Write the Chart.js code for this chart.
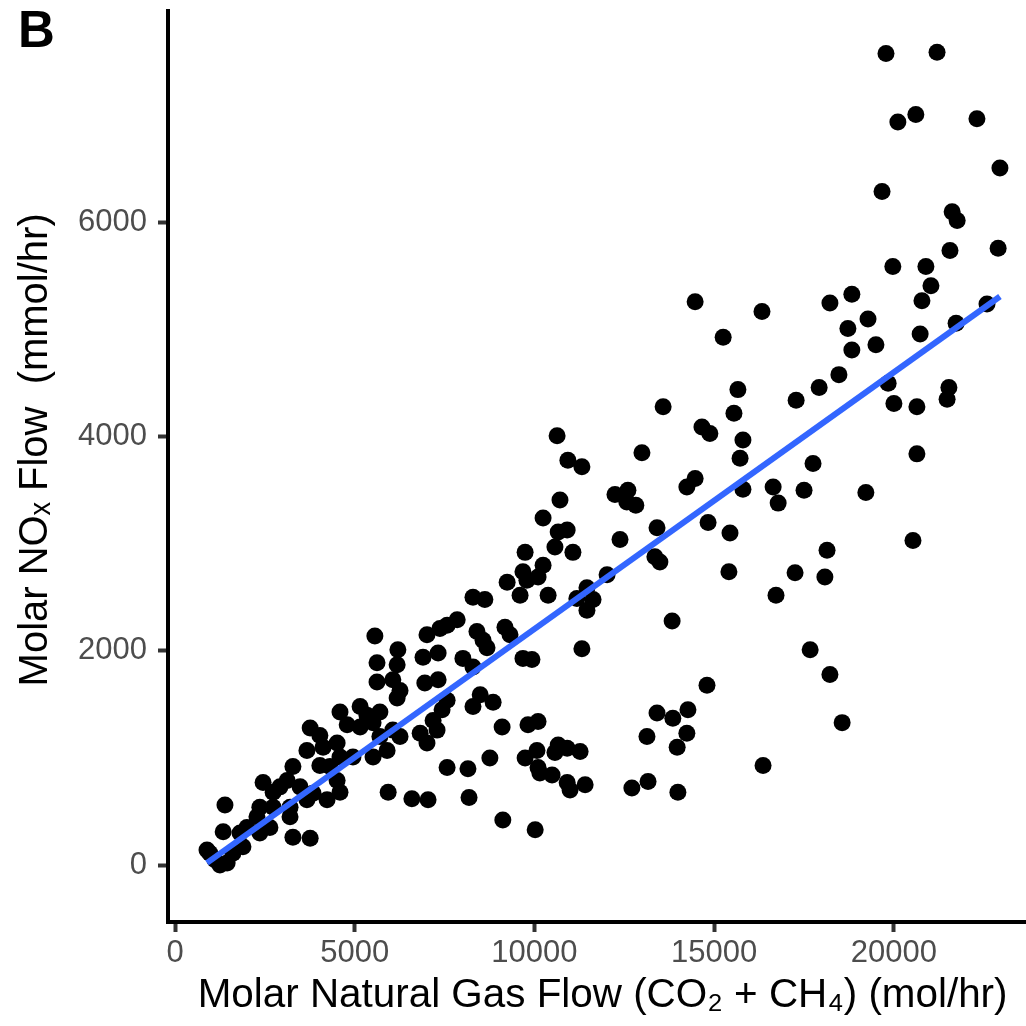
<!DOCTYPE html>
<html>
<head>
<meta charset="utf-8">
<script src="https://cdn.jsdelivr.net/npm/chart.js@4/dist/chart.umd.min.js"></script>
<style>
html,body{margin:0;padding:0;background:#ffffff;}
#wrap{width:1026px;height:1026px;}
</style>
</head>
<body>
<div id="wrap"><canvas id="c" width="1026" height="1026"></canvas></div>
<script>
// Molar natural gas flow (CO2 + CH4), mol/hr
const natGasFlow = [
  5560,6200,5620,6180,6900,7320,7010,7370,7570,5620,6060,6260,6180,6950,7320,7570,
  4590,5150,5340,4790,5700,3760,4030,3670,4120,4510,5150,5510,6060,6260,5700,5900,
  5510,4950,4590,4310,4030,4510,4590,4230,3840,3670,3480,3280,3120,2920,2450,2730,
  3200,3200,2730,2360,2280,2640,2360,2000,1810,1890,1610,1450,1250,1340,1390,970,
  890,1110,3280,3760,5930,6590,7040,6820,7010,7290,7570,7180,7430,
  10630,10930,11320,10710,12240,12380,10240,10660,10910,10570,11070,9740,10240,10100,
  9680,9790,9240,9600,10380,8290,8620,12020,11460,11180,11630,11460,11320,9180,9320,
  9680,9930,8400,8570,8680,7850,8010,8290,
  13830,8490,8290,8850,9100,9820,10100,8760,8150,9740,10070,10100,10150,10490,10660,
  10570,10910,11270,10910,10990,11410,8180,9120,10020,12710,13160,13990,13130,13410,
  13850,14270,14240,13970,14800,16360,
  14470,16330,18220,18830,18720,18830,18470,17920,17280,15250,15660,15550,13580,14660,
  14880,15800,15720,17750,12990,14470,14240,12600,12570,12820,16640,16780,17500,15800,
  19220,13410,13350,13490,14830,15440,18140,15410,17250,18080,
  19780,21200,20110,20610,22310,22950,19670,21620,21760,21560,22900,19970,20890,21030,
  20780,19280,22590,21730,19500,20730,19840,20000,20640,21530,21480,20640,20530,17670,
  18220,18560,16720
];
// Molar NOx flow, mmol/hr
const noxFlow = [
  2140,2010,1890,1870,1940,1980,2150,2210,2240,1710,1730,1630,1560,1700,1730,1540,
  1430,1480,1400,1310,1430,1280,1210,1070,1100,1140,1290,1330,1260,1200,1200,1070,
  1010,1010,1010,920,930,790,680,610,670,610,730,920,790,730,770,680,
  540,450,540,540,450,350,300,350,300,170,110,20,0,310,560,110,
  140,50,260,250,680,620,610,1230,1140,1260,910,1350,1450,
  4010,3780,3720,3410,3460,3040,3240,3110,3130,2970,2920,2920,2800,2690,
  2740,2660,2640,2520,2520,2500,2480,2710,2590,2490,2480,2380,2020,2220,2150,
  1930,1920,2180,2100,2030,2290,1930,1850,
  2280,1590,1480,1520,1290,1310,1340,1000,900,1000,1070,910,860,840,1120,
  1050,1090,1060,770,700,750,630,420,330,720,780,680,1200,1420,
  1370,1450,1230,1100,1680,930,
  5260,5170,5250,5330,5010,4810,4580,4460,4340,4930,4440,4220,4280,4090,
  4030,3970,3800,3750,3850,3610,3530,3500,3390,3360,3530,3380,3500,3510,
  3480,3150,2880,2830,3200,3100,2940,2740,2730,2690,
  7580,7590,6940,7010,6970,6510,6290,6100,6020,5740,5760,5590,5590,5410,
  5270,5100,5240,5060,4860,4960,4500,4310,4280,4460,4350,3840,3030,2010,
  1780,1330,2520
];
// Linear fit line (at the ends of the data range)
const fitX = [890, 22950];
const fitY = [20, 5310];

const xTickValues = [0, 5000, 10000, 15000, 20000];
const yTickValues = [0, 2000, 4000, 6000];
const xLabel = ' Molar Natural Gas Flow (CO\u2082 + CH\u2084) (mol/hr)';
const yLabel = '   Molar NO\u2093 Flow  (mmol/hr)';
const panelLabel = 'B';

const FONT = "'Liberation Sans', Arial, Helvetica, sans-serif";

const points = natGasFlow.map((x, i) => ({x: x, y: noxFlow[i]}));
const fitLine = fitX.map((x, i) => ({x: x, y: fitY[i]}));

const panelPlugin = {
  id: 'panelLabel',
  afterDraw(chart) {
    const c = chart.ctx;
    c.save();
    c.font = 'bold 51px ' + FONT;
    c.fillStyle = '#000000';
    c.textAlign = 'left';
    c.textBaseline = 'alphabetic';
    c.fillText(panelLabel, 18, 47);
    c.restore();
  }
};

new Chart(document.getElementById('c').getContext('2d'), {
  type: 'scatter',
  data: {
    datasets: [
      {
        type: 'line',
        data: fitLine,
        borderColor: '#3366FF',
        borderWidth: 6,
        pointRadius: 0,
        fill: false,
        tension: 0,
        order: 0
      },
      {
        type: 'scatter',
        data: points,
        backgroundColor: '#000000',
        borderWidth: 0,
        pointRadius: 8.5,
        pointHoverRadius: 8.5,
        order: 1
      }
    ]
  },
  options: {
    responsive: false,
    animation: false,
    devicePixelRatio: 1,
    layout: {padding: {top: 11, right: 0, bottom: 0, left: 0}, autoPadding: false},
    plugins: {legend: {display: false}, tooltip: {enabled: false}},
    scales: {
      x: {
        type: 'linear',
        position: 'bottom',
        min: -195,
        max: 23675,
        afterBuildTicks: s => { s.ticks = xTickValues.map(v => ({value: v})); },
        afterFit: s => { s.height = 104; s.paddingLeft = 0; s.paddingRight = 0; },
        grid: {display: true, drawOnChartArea: false, drawTicks: true, tickLength: 10, tickWidth: 4, tickColor: '#333333'},
        border: {display: true, color: '#000000', width: 4},
        ticks: {color: '#4D4D4D', font: {family: FONT, size: 31}, padding: 3, maxRotation: 0, autoSkip: false,
                callback: v => String(v)},
        title: {display: true, text: xLabel, color: '#000000', font: {family: FONT, size: 40.4}, padding: {top: 0, bottom: 6}}
      },
      y: {
        type: 'linear',
        position: 'left',
        min: -532,
        max: 7976,
        afterBuildTicks: s => { s.ticks = yTickValues.map(v => ({value: v})); },
        afterFit: s => { s.width = 168; s.paddingTop = 0; s.paddingBottom = 0; },
        grid: {display: true, drawOnChartArea: false, drawTicks: true, tickLength: 10, tickWidth: 4, tickColor: '#333333'},
        border: {display: true, color: '#000000', width: 4},
        ticks: {color: '#4D4D4D', font: {family: FONT, size: 31}, padding: 11, autoSkip: false,
                callback: v => String(v)},
        title: {display: true, text: yLabel, color: '#000000', font: {family: FONT, size: 40}, padding: {top: 12, bottom: 0}}
      }
    }
  },
  plugins: [panelPlugin]
});
</script>
</body>
</html>
